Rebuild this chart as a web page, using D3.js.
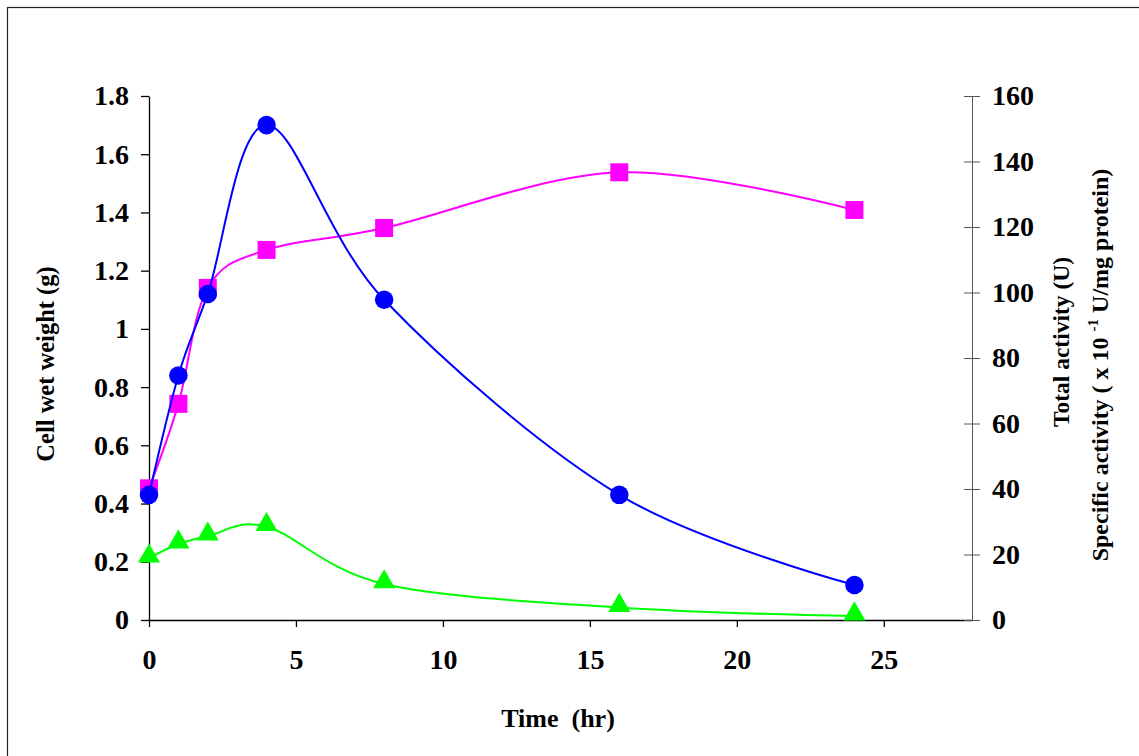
<!DOCTYPE html>
<html>
<head>
<meta charset="utf-8">
<script src="https://cdnjs.cloudflare.com/ajax/libs/d3/7.8.5/d3.min.js"></script>
<style>
  body { margin:0; background:#fff; }
  text { font-family:"Liberation Serif","Times New Roman",serif; font-weight:bold; fill:#000; }
</style>
</head>
<body>
<div id="canvas" class="canvas"></div>
<script>
// Time course of cell wet weight, total activity and specific activity

// data
var hours = [0, 1, 2, 4, 8, 16, 24];
var cellWetWeight = [0.43, 0.84, 1.12, 1.70, 1.10, 0.43, 0.12];      // g (left axis)
var totalActivity = [40.2, 66.0, 101.4, 113.0, 119.7, 136.7, 125.2];  // U (right axis)
var specificActivity = [18.9, 23.2, 25.6, 28.5, 11.0, 3.8, 1.2];      // x10^-1 U/mg protein (right axis)

var xTicks = [0, 5, 10, 15, 20, 25];
var leftTicks = [0, 0.2, 0.4, 0.6, 0.8, 1, 1.2, 1.4, 1.6, 1.8];
var rightTicks = [0, 20, 40, 60, 80, 100, 120, 140, 160];

var W = 1139, H = 756;

var svg = d3.select('.canvas')
    .append('svg')
    .attr('width', W)
    .attr('height', H);

// frame around the chart area
svg.append('rect')
    .attr('x', 7.5).attr('y', 7.5)
    .attr('width', W + 10).attr('height', H + 10)
    .style('fill', 'none').style('stroke', '#222').style('stroke-width', 1.2);

// scales
var scaleX = d3.scaleLinear().domain([0, 28]).range([149, 972]),
    scaleYL = d3.scaleLinear().domain([0, 1.8]).range([620, 96]),
    scaleYR = d3.scaleLinear().domain([0, 160]).range([620, 96]);

// x axis
var xAxis = svg.append('g').attr('class', 'axis x')
    .attr('transform', 'translate(0,' + scaleYL(0) + ')')
    .call(d3.axisBottom(scaleX).tickValues(xTicks).tickSizeInner(7).tickSizeOuter(0).tickPadding(22));

// left axis
var yAxisL = svg.append('g').attr('class', 'axis yl')
    .attr('transform', 'translate(' + scaleX(0) + ',0)')
    .call(d3.axisLeft(scaleYL).tickValues(leftTicks).tickSizeInner(8).tickSizeOuter(0).tickPadding(12)
        .tickFormat(function(d){ return String(+d.toFixed(1)); }));

// right axis (ticks cross the line)
var yAxisR = svg.append('g').attr('class', 'axis yr')
    .attr('transform', 'translate(' + scaleX(28) + ',0)')
    .call(d3.axisRight(scaleYR).tickValues(rightTicks).tickSizeInner(8).tickSizeOuter(0).tickPadding(12));
yAxisR.selectAll('.tick line').attr('x1', -8);
yAxisR.select('.domain').style('stroke', '#555');
yAxisR.selectAll('.tick line').style('stroke', '#555');

svg.selectAll('.axis text')
    .style('font-size', '28px')
    .style('font-family', '"Liberation Serif","Times New Roman",serif')
    .style('font-weight', 'bold')
    .style('fill', '#000');
svg.selectAll('.axis.x .domain, .axis.yl .domain, .axis.x .tick line, .axis.yl .tick line')
    .style('stroke', '#000').style('stroke-width', 1.3);

// axis titles
svg.append('text')
    .attr('x', 558).attr('y', 727)
    .attr('text-anchor', 'middle')
    .style('font-size', '26px')
    .style('white-space', 'pre')
    .text('Time  (hr)');

svg.append('text')
    .attr('transform', 'translate(54,364) rotate(-90)')
    .attr('text-anchor', 'middle')
    .style('font-size', '24.5px')
    .text('Cell wet weight (g)');

svg.append('text')
    .attr('transform', 'translate(1069,342) rotate(-90)')
    .attr('text-anchor', 'middle')
    .style('font-size', '23.5px')
    .text('Total activity (U)');

var spec = svg.append('text')
    .attr('transform', 'translate(1108,365) rotate(-90)')
    .attr('text-anchor', 'middle')
    .style('font-size', '24px')
    .style('white-space', 'pre');
spec.append('tspan').text('Specific activity ( x 10 ');
spec.append('tspan').attr('dy', -10).style('font-size', '15px').text('-1');
spec.append('tspan').attr('dy', 10).text(' U/mg protein)');

// smoothed lines, like the spreadsheet "smoothed line" option
var series = [
    {name:'specific', values:specificActivity, y:scaleYR, color:'#00ff00', shape:d3.symbolTriangle, size:210},
    {name:'total', values:totalActivity, y:scaleYR, color:'#ff00ff', shape:d3.symbolSquare, size:324},
    {name:'cell', values:cellWetWeight, y:scaleYL, color:'#0000ff', shape:d3.symbolCircle, size:270}
];

series.forEach(function(s){
    var pts = hours.map(function(h, i){ return [h, s.values[i]]; });

    var line = d3.line()
        .x(function(d){ return scaleX(d[0]); })
        .y(function(d){ return s.y(d[1]); })
        .curve(d3.curveCardinal.tension(0));

    var g = svg.append('g').attr('class', 'series ' + s.name);

    g.append('path')
        .datum(pts)
        .attr('d', line)
        .style('fill', 'none')
        .style('stroke', s.color)
        .style('stroke-width', 2);

    g.selectAll('.marker')
        .data(pts)
        .enter()
        .append('path').attr('class', 'marker')
        .attr('transform', function(d){
            var dy = s.shape === d3.symbolTriangle ? -2 : 0;
            return 'translate(' + scaleX(d[0]) + ',' + (s.y(d[1]) + dy) + ')';
        })
        .attr('d', d3.symbol().type(s.shape).size(s.size))
        .style('fill', s.color);
});
</script>
</body>
</html>
